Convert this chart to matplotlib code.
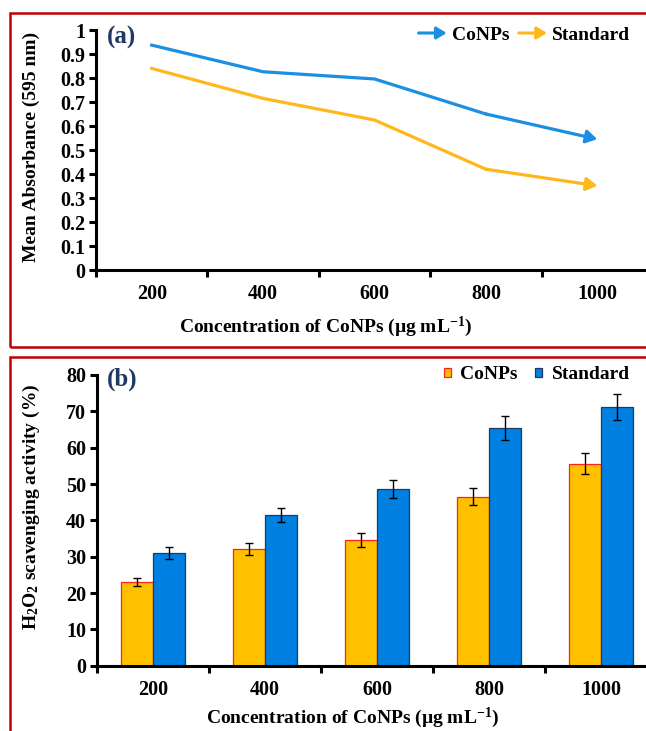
import numpy as np
import matplotlib
matplotlib.use("Agg")
import matplotlib.pyplot as plt
from matplotlib.lines import Line2D
from matplotlib.patches import Rectangle, FancyArrowPatch
from matplotlib.legend_handler import HandlerBase

plt.rcParams['font.family'] = ['Liberation Serif', 'DejaVu Serif']
plt.rcParams['font.weight'] = 'bold'
plt.rcParams['mathtext.fontset'] = 'custom'
plt.rcParams['mathtext.rm'] = 'Liberation Serif:bold'
plt.rcParams['mathtext.it'] = 'Liberation Serif:bold'
plt.rcParams['mathtext.bf'] = 'Liberation Serif:bold'

# data
concentrations = ['200', '400', '600', '800', '1000']

absorb_conps = [0.937, 0.826, 0.796, 0.650, 0.545]
absorb_standard = [0.840, 0.715, 0.625, 0.420, 0.351]
absorb_ticks = [0, 0.1, 0.2, 0.3, 0.4, 0.5, 0.6, 0.7, 0.8, 0.9, 1.0]
absorb_ticklabels = ['0', '0.1', '0.2', '0.3', '0.4', '0.5', '0.6', '0.7', '0.8', '0.9', '1']

scav_conps = [23.0, 32.2, 34.6, 46.5, 55.6]
scav_conps_err = [1.1, 1.7, 1.8, 2.3, 2.8]
scav_standard = [31.0, 41.4, 48.6, 65.3, 71.2]
scav_standard_err = [1.6, 1.9, 2.4, 3.3, 3.6]
scav_ticks = [0, 10, 20, 30, 40, 50, 60, 70, 80]

BLUE_LINE = '#1a8fe3'
ORANGE_LINE = '#ffb81c'
BAR_ORANGE = '#ffc000'
BAR_BLUE = '#0080e0'
NAVY = '#1f3864'
FRAME_RED = '#c00000'

W, H = 646, 731


class ArrowHandler(HandlerBase):
    def create_artists(self, legend, orig_handle, xdescent, ydescent,
                       width, height, fontsize, trans):
        y = height / 2 - ydescent
        arr = FancyArrowPatch((-xdescent, y), (-xdescent + width, y),
                              arrowstyle='-|>,head_length=0.5,head_width=0.3',
                              mutation_scale=12, lw=2.2,
                              color=orig_handle.get_color(),
                              shrinkA=0, shrinkB=0, transform=trans)
        return [arr]


def style_axes(ax):
    for s in ['top', 'right']:
        ax.spines[s].set_visible(False)
    for s in ['left', 'bottom']:
        ax.spines[s].set_linewidth(2.2)
    n = len(concentrations)
    ax.set_xlim(-0.5, n - 0.5)
    ax.set_xticks(np.arange(n + 1) - 0.5)
    ax.set_xticklabels([])
    ax.set_xticks(np.arange(n), minor=True)
    ax.set_xticklabels(concentrations, minor=True, fontsize=14.5)
    ax.tick_params(axis='x', which='major', direction='out', length=5, width=2.2)
    ax.tick_params(axis='x', which='minor', length=0, pad=10)
    ax.tick_params(axis='y', direction='out', length=5, width=2.2, labelsize=14.5, pad=3)


def fx(px):
    return px / W


def fy(py):
    return 1 - py / H


fig = plt.figure(figsize=(W / 100, H / 100), dpi=100)

# frames around each panel
fig.patches.append(Rectangle((fx(10), fy(347)), fx(700), fy(13) - fy(347),
                             transform=fig.transFigure, fill=False,
                             edgecolor=FRAME_RED, lw=1.8, zorder=0))
fig.patches.append(Rectangle((fx(10), fy(760)), fx(700), fy(357) - fy(760),
                             transform=fig.transFigure, fill=False,
                             edgecolor=FRAME_RED, lw=1.8, zorder=0))

# ---- panel (a): line chart
ax1 = fig.add_axes([fx(96), fy(270), fx(557), fy(30) - fy(270)])
style_axes(ax1)
x = np.arange(len(concentrations))
for vals, col, name in [(absorb_conps, BLUE_LINE, 'CoNPs'),
                        (absorb_standard, ORANGE_LINE, 'Standard')]:
    ax1.plot(x[:-1], vals[:-1], color=col, lw=2.3, solid_joinstyle='round')
    ax1.annotate('', xy=(x[-1], vals[-1]), xytext=(x[-2], vals[-2]),
                 arrowprops=dict(arrowstyle='-|>,head_length=0.5,head_width=0.3',
                                 mutation_scale=13, lw=2.3, color=col,
                                 shrinkA=0, shrinkB=0))
ax1.set_ylim(0, 1)
ax1.set_yticks(absorb_ticks)
ax1.set_yticklabels(absorb_ticklabels)

handles_a = [Line2D([], [], color=BLUE_LINE), Line2D([], [], color=ORANGE_LINE)]
fig.legend(handles_a, ['CoNPs', 'Standard'], handler_map={Line2D: ArrowHandler()},
           loc='center right', bbox_to_anchor=(fx(630), fy(35)),
           bbox_transform=fig.transFigure, frameon=False, ncol=2,
           fontsize=14, handlelength=1.45, handletextpad=0.25,
           columnspacing=0.5, borderpad=0, borderaxespad=0)

fig.text(fx(107), fy(37), '(a)', color=NAVY, fontsize=18, ha='left', va='center')
fig.text(fx(31), fy(147), 'Mean Absorbance (595 nm)', rotation=90,
         ha='center', va='center', fontsize=14)
fig.text(fx(326), fy(327), r'Concentration of CoNPs (µg mL$^{-1}$)',
         ha='center', va='center', fontsize=14)

# ---- panel (b): grouped bars with error bars
ax2 = fig.add_axes([fx(97), fy(665.7), fx(560), fy(375) - fy(665.7)])
style_axes(ax2)
bw = 0.29
ax2.bar(x - bw / 2, scav_conps, bw, color=BAR_ORANGE, edgecolor='#ff2020',
        lw=0.9, yerr=scav_conps_err, capsize=3,
        error_kw=dict(elinewidth=1, capthick=1, ecolor='black'), label='CoNPs')
ax2.bar(x + bw / 2, scav_standard, bw, color=BAR_BLUE, edgecolor=NAVY,
        lw=0.9, yerr=scav_standard_err, capsize=3,
        error_kw=dict(elinewidth=1, capthick=1, ecolor='black'), label='Standard')
ax2.set_ylim(0, 80)
ax2.set_yticks(scav_ticks)

fig.legend(*ax2.get_legend_handles_labels(),
           loc='center right', bbox_to_anchor=(fx(630), fy(375)),
           bbox_transform=fig.transFigure, frameon=False, ncol=2,
           fontsize=14, handlelength=0.35, handleheight=0.35,
           handletextpad=0.5, columnspacing=0.9, borderpad=0, borderaxespad=0)

fig.text(fx(107), fy(379), '(b)', color=NAVY, fontsize=18, ha='left', va='center')
fig.text(fx(31), fy(507), r'H$_2$O$_2$ scavenging activity (%)', rotation=90,
         ha='center', va='center', fontsize=14)
fig.text(fx(353), fy(718), r'Concentration of CoNPs (µg mL$^{-1}$)',
         ha='center', va='center', fontsize=14)

fig.savefig('out.png', dpi=100)
